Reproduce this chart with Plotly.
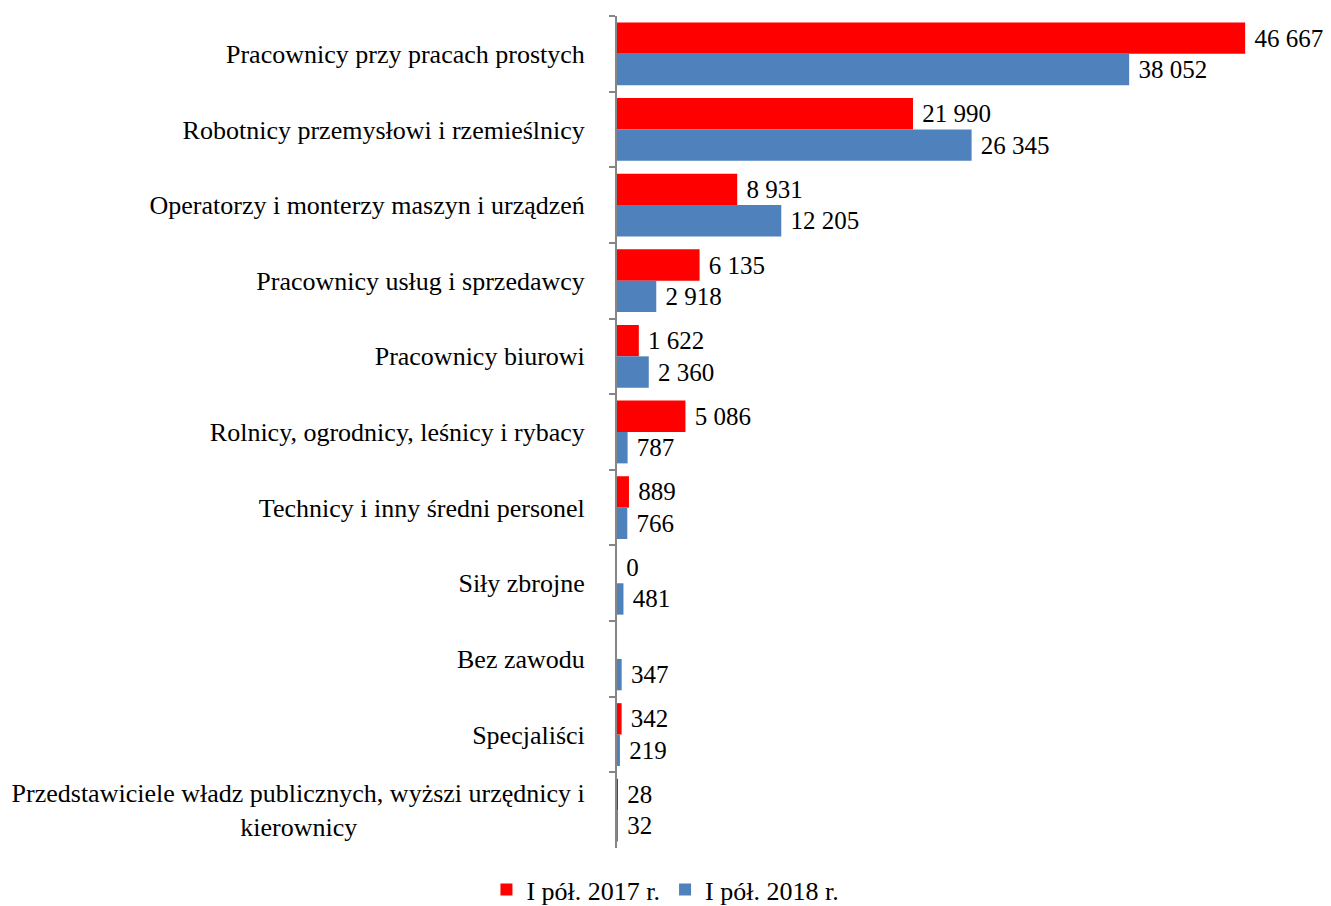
import plotly.graph_objects as go

NB = "\u00a0"

categories = [
    "Pracownicy przy pracach prostych",
    "Robotnicy przemysłowi i rzemieślnicy",
    "Operatorzy i monterzy maszyn i urządzeń",
    "Pracownicy usług i sprzedawcy",
    "Pracownicy biurowi",
    "Rolnicy, ogrodnicy, leśnicy i rybacy",
    "Technicy i inny średni personel",
    "Siły zbrojne",
    "Bez zawodu",
    "Specjaliści",
    "Przedstawiciele władz publicznych, wyższi urzędnicy i<br>kierownicy" + NB * 35,
]
values_2017 = [46667, 21990, 8931, 6135, 1622, 5086, 889, 0, None, 342, 28]
values_2018 = [38052, 26345, 12205, 2918, 2360, 787, 766, 481, 347, 219, 32]


def fmt(v):
    if v is None:
        return ""
    return NB + f"{v:,}".replace(",", " ")


FONT = "Liberation Serif, Times New Roman, serif"

fig = go.Figure()
for name, vals, color in [("I pół. 2017 r.", values_2017, "#FF0000"),
                          ("I pół. 2018 r.", values_2018, "#4F81BD")]:
    fig.add_trace(go.Bar(
        y=categories, x=vals, orientation="h", name=name,
        marker=dict(color=color, line=dict(width=0)),
        text=[fmt(v) for v in vals], textposition="outside",
        textfont=dict(family=FONT, size=25, color="black"),
        constraintext="none", cliponaxis=False,
    ))

# page body has an 8px margin, so the figure is a bit smaller than the window
fig.update_layout(
    width=1315, height=898,
    barmode="group", bargap=0.17, bargroupgap=0,
    plot_bgcolor="white", paper_bgcolor="white",
    font=dict(family=FONT, size=26, color="black"),
    margin=dict(l=609, r=33, t=8, b=58, autoexpand=False),
    legend=dict(orientation="h", x=0.072, xanchor="center", y=-0.05, yanchor="middle",
                font=dict(family=FONT, size=26), itemwidth=30),
)
fig.update_xaxes(range=[0, 50000], visible=False)
fig.update_yaxes(
    autorange="reversed", tickson="boundaries", ticks="outside", ticklen=6,
    tickcolor="#868686", tickwidth=2, showline=True, linecolor="#868686", linewidth=2,
    showgrid=False, ticklabelstandoff=25,
)

fig.write_html("out.html")
